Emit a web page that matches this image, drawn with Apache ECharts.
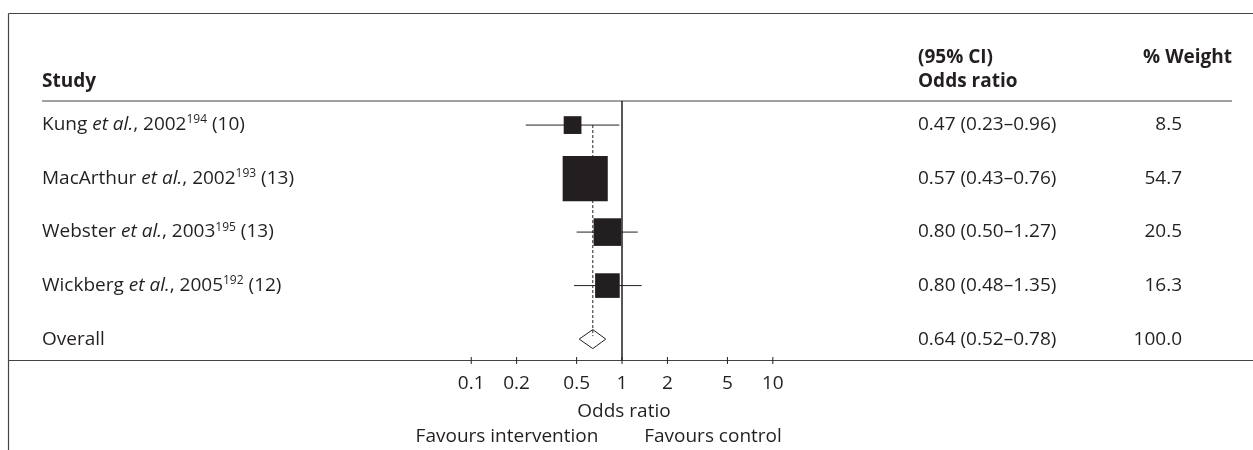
<!DOCTYPE html>
<html><head><meta charset="utf-8">
<script src="https://cdn.jsdelivr.net/npm/echarts@6/dist/echarts.min.js"></script>
<style>html,body{margin:0;padding:0;background:#fff}#c{width:1253px;height:450px}</style>
</head><body><div id="c"></div>
<script>
// ---- data ----
const authors = ['Kung', 'MacArthur', 'Webster', 'Wickberg'];
const years = [2002, 2002, 2003, 2005];
const refs = [194, 193, 195, 192];
const nStudy = [10, 13, 13, 12];
const oddsRatio = [0.47, 0.57, 0.80, 0.80];
const ciLower = [0.23, 0.43, 0.50, 0.48];
const ciUpper = [0.96, 0.76, 1.27, 1.35];
const weights = [8.5, 54.7, 20.5, 16.3];
const overallLabel = 'Overall';
const overall = [0.64, 0.52, 0.78, 100.0]; // OR, lower, upper, weight
const tickValues = [0.1, 0.2, 0.5, 1, 2, 5, 10];
const nullValue = 1;

// ---- styling ----
const FONT = "'Open Sans', sans-serif";
const INK = '#231f20';
const FRAME = '#444';
const FS = 19;
const L10 = Math.log10;

const forestData = oddsRatio.map((v, i) => [L10(v), L10(ciLower[i]), L10(ciUpper[i]), weights[i], i]);
const overallData = [[L10(overall[0]), L10(overall[1]), L10(overall[2]), overall[3], authors.length]];

const fmtCI = (o, l, u) => `${o.toFixed(2)} (${l.toFixed(2)}–${u.toFixed(2)})`;
const labelRows = authors.map((a, i) => ({
  name: `{n|${a} }{i|et al.}{n|, ${years[i]}}{s|${refs[i]}}{n| (${nStudy[i]})}`,
  est: fmtCI(oddsRatio[i], ciLower[i], ciUpper[i]),
  w: weights[i].toFixed(1)
}));
labelRows.push({ name: `{n|${overallLabel}}`, est: fmtCI(overall[0], overall[1], overall[2]), w: overall[3].toFixed(1) });

const rich = {
  n: { fontFamily: FONT, fontSize: FS, fill: INK, color: INK, lineHeight: 22 },
  i: { fontFamily: FONT, fontSize: FS, fontStyle: 'italic', fill: INK, color: INK, lineHeight: 22 },
  s: { fontFamily: FONT, fontSize: 12, fill: INK, color: INK, verticalAlign: 'top', lineHeight: 14 }
};

const tickLog = tickValues.map(L10);
const xMin = -4.065, xMax = 4.184;
const yMin = -0.45, yMax = 4.40;

const chart = echarts.init(document.getElementById('c'));
chart.setOption({
  animation: false,
  backgroundColor: '#fff',
  grid: { left: 9, right: 0, top: 101, bottom: 89.5, containLabel: false, outerBoundsMode: 'none' },
  xAxis: {
    type: 'value', min: xMin, max: xMax, position: 'bottom',
    splitLine: { show: false },
    axisLine: { show: true, onZero: false, lineStyle: { color: FRAME, width: 1.2 } },
    axisTick: { show: false },
    axisLabel: {
      show: true, customValues: tickLog, margin: 14,
      fontFamily: FONT, fontSize: FS, color: INK,
      formatter: v => String(+Math.pow(10, v).toPrecision(2))
    }
  },
  yAxis: { type: 'value', min: yMin, max: yMax, inverse: true, show: false },
  graphic: [
    { type: 'line', shape: { x1: 8.5, y1: 13.5, x2: 1253, y2: 13.5 }, style: { stroke: FRAME, lineWidth: 1.2 } },
    { type: 'line', shape: { x1: 8.5, y1: 13.5, x2: 8.5, y2: 450 }, style: { stroke: FRAME, lineWidth: 1.2 } },
    { type: 'line', shape: { x1: 42, y1: 101, x2: 1232, y2: 101 }, style: { stroke: FRAME, lineWidth: 1.2 } },
    { type: 'text', x: 42, y: 82, style: { text: 'Study', align: 'left', verticalAlign: 'middle', fontFamily: FONT, fontSize: FS, fontWeight: 'bold', fill: INK } },
    { type: 'text', x: 918, y: 58, style: { text: '(95% CI)', align: 'left', verticalAlign: 'middle', fontFamily: FONT, fontSize: FS, fontWeight: 'bold', fill: INK } },
    { type: 'text', x: 918, y: 82, style: { text: 'Odds ratio', align: 'left', verticalAlign: 'middle', fontFamily: FONT, fontSize: FS, fontWeight: 'bold', fill: INK } },
    { type: 'text', x: 1232, y: 58, style: { text: '% Weight', align: 'right', verticalAlign: 'middle', fontFamily: FONT, fontSize: FS, fontWeight: 'bold', fill: INK } },
    { type: 'text', x: 624, y: 412, style: { text: 'Odds ratio', align: 'center', verticalAlign: 'middle', fontFamily: FONT, fontSize: FS, fill: INK } },
    { type: 'text', x: 507, y: 437, style: { text: 'Favours intervention', align: 'center', verticalAlign: 'middle', fontFamily: FONT, fontSize: FS, fill: INK } },
    { type: 'text', x: 713, y: 437, style: { text: 'Favours control', align: 'center', verticalAlign: 'middle', fontFamily: FONT, fontSize: FS, fill: INK } }
  ],
  series: [
    {
      // axis tick marks crossing the axis line
      type: 'custom', data: tickLog.map(v => [v]), silent: true,
      renderItem(params, api) {
        const p = api.coord([api.value(0), yMax]);
        return { type: 'line', shape: { x1: p[0], y1: p[1] - 3.5, x2: p[0], y2: p[1] + 3.5 }, style: { stroke: INK, lineWidth: 1 } };
      }
    },
    {
      // overall estimate: dashed reference + diamond
      type: 'custom', data: overallData, silent: true,
      renderItem(params, api) {
        const row = api.value(4);
        const c = api.coord([api.value(0), row]);
        const top = api.coord([api.value(0), 0]);
        const lo = api.coord([api.value(1), row]);
        const hi = api.coord([api.value(2), row]);
        const h = 9.5;
        return {
          type: 'group', children: [
            { type: 'line', shape: { x1: top[0], y1: top[1], x2: c[0], y2: c[1] - 3 }, style: { stroke: INK, lineWidth: 1, lineDash: [3, 2] } },
            { type: 'polygon', shape: { points: [[lo[0], c[1]], [c[0], c[1] - h], [hi[0], c[1]], [c[0], c[1] + h]] }, style: { fill: 'none', stroke: INK, lineWidth: 1 } }
          ]
        };
      }
    },
    {
      // line of no effect
      type: 'line', data: [], silent: true,
      markLine: { symbol: 'none', silent: true, label: { show: false }, lineStyle: { color: INK, width: 1.5, type: 'solid' }, data: [{ xAxis: L10(nullValue) }] }
    },
    {
      // study estimates
      type: 'custom', data: forestData, silent: true,
      renderItem(params, api) {
        const row = api.value(4);
        const c = api.coord([api.value(0), row]);
        const lo = api.coord([api.value(1), row]);
        const hi = api.coord([api.value(2), row]);
        const side = 6.1 * Math.sqrt(api.value(3));
        return {
          type: 'group', children: [
            { type: 'line', shape: { x1: lo[0], y1: lo[1], x2: hi[0], y2: hi[1] }, style: { stroke: INK, lineWidth: 1 } },
            { type: 'rect', shape: { x: c[0] - side / 2, y: c[1] - side / 2, width: side, height: side }, style: { fill: INK } }
          ]
        };
      }
    },
    {
      // row text columns
      type: 'custom', data: labelRows.map((r, i) => [0, i]), silent: true,
      renderItem(params, api) {
        const r = labelRows[params.dataIndex];
        const y = api.coord([0, api.value(1)])[1];
        return {
          type: 'group', children: [
            { type: 'text', x: 42, y: y, style: { text: r.name, rich: rich, align: 'left', verticalAlign: 'middle', fontFamily: FONT, fontSize: FS, fill: INK } },
            { type: 'text', x: 918, y: y, style: { text: r.est, align: 'left', verticalAlign: 'middle', fontFamily: FONT, fontSize: FS, fill: INK } },
            { type: 'text', x: 1182, y: y, style: { text: r.w, align: 'right', verticalAlign: 'middle', fontFamily: FONT, fontSize: FS, fill: INK } }
          ]
        };
      }
    }
  ]
});
</script></body></html>
